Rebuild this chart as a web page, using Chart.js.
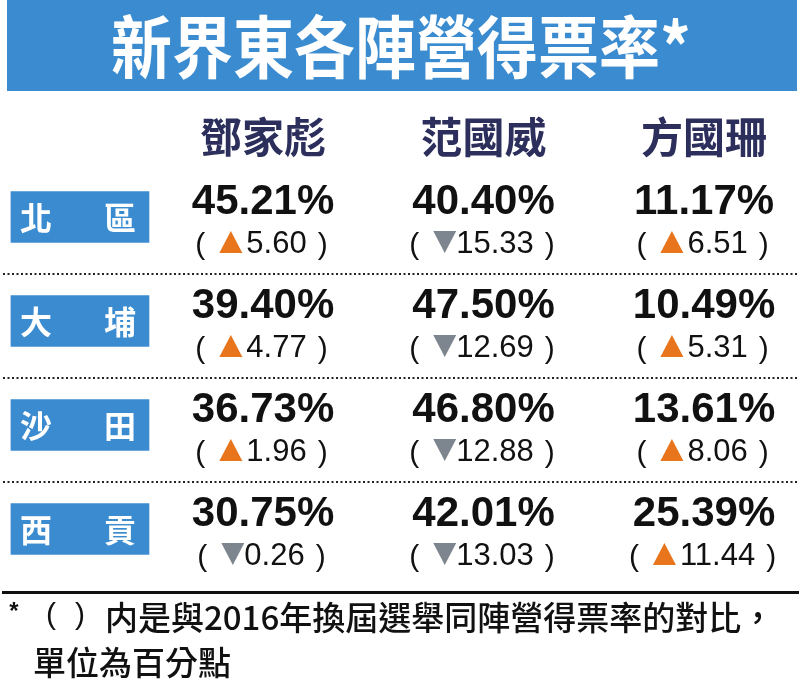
<!DOCTYPE html>
<html>
<head>
<meta charset="utf-8">
<title>新界東各陣營得票率</title>
<script src="https://cdn.jsdelivr.net/npm/chart.js@4/dist/chart.umd.min.js"></script>
<style>
  html, body { margin: 0; padding: 0; background: #fff; }
  canvas { display: block; }
</style>
</head>
<body>
<canvas id="chart" width="800" height="694"></canvas>
<script>
/*
DATA
*/
const titleText = '新界東各陣營得票率*';
const districts = ['北區', '大埔', '沙田', '西貢'];
const candidates = ['鄧家彪', '范國威', '方國珊'];

// vote share (%) per district
const shareDeng = [45.21, 39.40, 36.73, 30.75];
const shareFan = [40.40, 47.50, 46.80, 42.01];
const shareFong = [11.17, 10.49, 13.61, 25.39];

// change vs 2016 (percentage points)
const changeDeng = [5.60, 4.77, 1.96, -0.26];
const changeFan = [-15.33, -12.69, -12.88, -13.03];
const changeFong = [6.51, 5.31, 8.06, 11.44];

const noteLines = ['内是與2016年換屆選舉同陣營得票率的對比，', '單位為百分點'];

/*
STYLE / LAYOUT
*/
const BLUE = '#3a8bcf';
const NAVY = '#2c2f5c';
const INK = '#111111';
const UP = '#e8741c';
const DOWN = '#7d858e';
const CJK = '"Noto Sans CJK TC", "Noto Sans CJK SC", sans-serif';
const LATIN = '"Liberation Sans", Arial, sans-serif';

const HEADER_ROW = 0.23;          // y value of the name header
const LABEL_SPAN = [-0.143, 0.483]; // x extent of the district boxes
const separators = [1.545, 2.545, 3.545];

const shares = [shareDeng, shareFan, shareFong];
const changes = [changeDeng, changeFan, changeFong];

// one scatter dataset per candidate, one point per district
let cellSets = candidates.map((name, c) => ({
  label: name,
  data: districts.map((d, r) => ({ x: c + 1, y: r + 1 })),
  pointRadius: 0,
  pointHoverRadius: 0
}));

let boxSet = {
  type: 'bar',
  label: 'districts',
  indexAxis: 'y',
  data: districts.map((d, r) => ({ x: LABEL_SPAN, y: r + 1 })),
  backgroundColor: BLUE,
  borderWidth: 0,
  borderSkipped: false,
  barThickness: 51
};

//draws title bar, headers, cell texts and the note
const tablePlugin = {
  id: 'tablePlugin',
  beforeDraw(chart) {
    const ctx = chart.ctx;
    ctx.save();
    ctx.fillStyle = '#fff';
    ctx.fillRect(0, 0, chart.width, chart.height);
    ctx.fillStyle = BLUE;
    ctx.fillRect(7, 0, 790, 91);
    ctx.fillStyle = '#fff';
    ctx.font = 'bold 61px ' + CJK;
    ctx.textAlign = 'center';
    ctx.textBaseline = 'middle';
    ctx.translate(401, 47);
    ctx.scale(1, 1.12);
    ctx.fillText(titleText, 0, 0);
    ctx.restore();
  },
  afterDatasetsDraw(chart) {
    const ctx = chart.ctx;
    const xs = chart.scales.x;
    const ys = chart.scales.y;
    ctx.save();

    // candidate names
    ctx.fillStyle = NAVY;
    ctx.font = 'bold 42px ' + CJK;
    ctx.textAlign = 'center';
    ctx.textBaseline = 'middle';
    candidates.forEach((name, c) => {
      ctx.fillText(name, xs.getPixelForValue(c + 1), ys.getPixelForValue(HEADER_ROW));
    });

    // district labels inside the blue boxes
    const boxMeta = chart.getDatasetMeta(0);
    ctx.fillStyle = '#fff';
    ctx.font = 'bold 32px ' + CJK;
    boxMeta.data.forEach((el, r) => {
      const name = districts[r];
      ctx.fillText(name[0], el.base + 25, el.y + 1);
      ctx.fillText(name[1], el.x - 29, el.y + 1);
    });

    // cells
    candidates.forEach((name, c) => {
      const meta = chart.getDatasetMeta(c + 1);
      meta.data.forEach((pt, r) => {
        const cx = pt.x;
        const cy = pt.y;
        ctx.textBaseline = 'alphabetic';
        ctx.textAlign = 'center';
        ctx.fillStyle = INK;
        ctx.font = 'bold 42px ' + LATIN;
        ctx.fillText(shares[c][r].toFixed(2) + '%', cx, cy - 3);

        const v = changes[c][r];
        const txt = Math.abs(v).toFixed(2);
        ctx.font = '31px ' + LATIN;
        const tw = ctx.measureText(txt).width;
        const triW = 23, triH = 22;
        const gap = v >= 0 ? 4 : 0;
        const full = triW + gap + tw;
        const left = cx - full / 2;
        const base = cy + 36;

        ctx.fillStyle = v >= 0 ? UP : DOWN;
        ctx.beginPath();
        if (v >= 0) {
          ctx.moveTo(left, base);
          ctx.lineTo(left + triW, base);
          ctx.lineTo(left + triW / 2, base - triH);
        } else {
          ctx.moveTo(left, base - triH);
          ctx.lineTo(left + triW, base - triH);
          ctx.lineTo(left + triW / 2, base);
        }
        ctx.closePath();
        ctx.fill();

        ctx.fillStyle = INK;
        ctx.textAlign = 'left';
        ctx.fillText(txt, left + triW + gap, base);
        ctx.textAlign = 'center';
        ctx.font = '30px ' + LATIN;
        ctx.fillText('(', left - 19, base + 1);
        ctx.fillText(')', left + full + 16, base + 1);
      });
    });
    ctx.restore();
  },
  afterDraw(chart) {
    const ctx = chart.ctx;
    ctx.save();
    ctx.fillStyle = INK;
    ctx.textBaseline = 'middle';
    ctx.textAlign = 'center';
    ctx.font = 'bold 24px ' + LATIN;
    ctx.fillText('*', 14, 612);
    ctx.font = '30px ' + LATIN;
    ctx.fillText('(', 51, 616);
    ctx.fillText(')', 80, 616);
    ctx.textAlign = 'left';
    ctx.font = '500 33px ' + CJK;
    ctx.fillText(noteLines[0], 105, 617, 684);
    ctx.fillText(noteLines[1], 33, 662);
    ctx.restore();
  }
};

let chart = new Chart(document.getElementById('chart'), {
  type: 'scatter',
  data: { datasets: [boxSet].concat(cellSets) },
  options: {
    responsive: false,
    animation: false,
    events: [],
    layout: { padding: { left: 3, right: 2, top: 165, bottom: 102 } },
    plugins: {
      legend: { display: false },
      tooltip: { enabled: false }
    },
    scales: {
      x: {
        type: 'linear',
        min: -0.179,
        max: 3.426,
        offset: false,
        ticks: { display: false },
        grid: { display: false, drawTicks: false, offset: false },
        border: { display: true, color: INK, width: 3 }
      },
      y: {
        type: 'linear',
        reverse: true,
        min: 0.5,
        max: 4.606,
        offset: false,
        afterBuildTicks: (scale) => {
          scale.ticks = separators.map(v => ({ value: v }));
        },
        ticks: { display: false },
        grid: { color: '#222', lineWidth: 2, drawTicks: false, offset: false },
        border: { display: false, dash: [2, 2.5] }
      }
    }
  },
  plugins: [tablePlugin]
});
</script>
</body>
</html>
